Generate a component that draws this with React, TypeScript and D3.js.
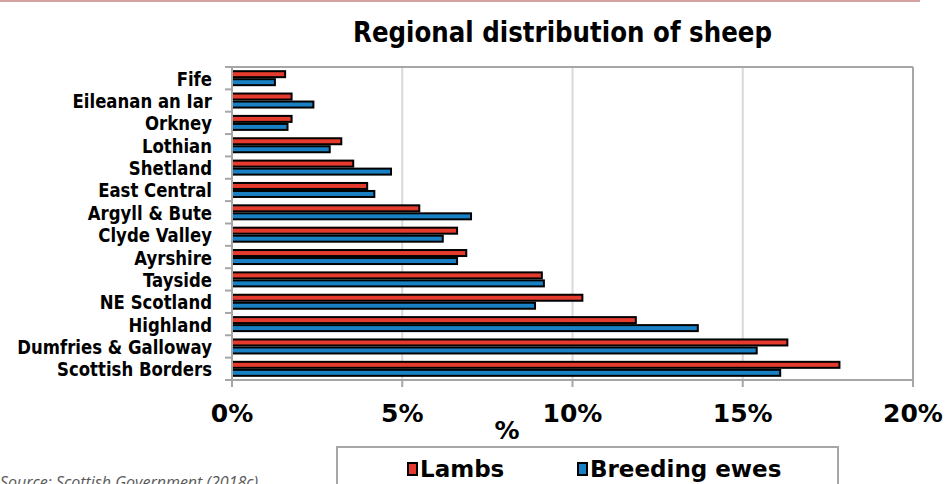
import React from "react";
import * as d3 from "d3";

const categories = [
  "Fife",
  "Eileanan an Iar",
  "Orkney",
  "Lothian",
  "Shetland",
  "East Central",
  "Argyll & Bute",
  "Clyde Valley",
  "Ayrshire",
  "Tayside",
  "NE Scotland",
  "Highland",
  "Dumfries & Galloway",
  "Scottish Borders",
];
const lambs = [1.56, 1.75, 1.75, 3.21, 3.56, 3.97, 5.5, 6.61, 6.88, 9.1, 10.29, 11.86, 16.31, 17.84];
const breedingEwes = [1.26, 2.39, 1.63, 2.87, 4.67, 4.18, 7.02, 6.19, 6.61, 9.16, 8.9, 13.68, 15.41, 16.1];
const seriesNames = ["Lambs", "Breeding ewes"];
const seriesColors = ["#e43b2e", "#1a80c4"];
const xTicks = [0, 5, 10, 15, 20];

const W = 946;
const H = 484;
const left = 232;
const right = 913;
const top = 67;
const bottom = 380;
const axisGrey = "#a6a6a6";
const gridGrey = "#d9d9d9";
const font = "'DejaVu Sans', Verdana, sans-serif";

export default function App() {
  const x = d3.scaleLinear().domain([0, 20]).range([left, right]);
  const y = d3.scaleBand<string>().domain(categories).range([top, bottom]).padding(0);
  const sub = d3.scaleBand<string>().domain(seriesNames).range([-8, 8]).padding(0);
  const values = [lambs, breedingEwes];
  const bw = y.bandwidth();
  const boundaries = categories.map((c) => y(c) as number).concat([bottom]);

  return (
    <svg width={W} height={H} style={{ position: "absolute", left: 0, top: 0, background: "#fff" }}>
      <rect x={0} y={0} width={W} height={H} fill="#fff" />
      <line x1={0} x2={920} y1={1} y2={1} stroke="#d6a3a3" strokeWidth={2} />
      <g transform={`translate(562.5,42) scale(0.876,1)`}>
        <text x={0} y={0} textAnchor="middle" fontFamily={font} fontWeight="bold" fontSize={28} fill="#000">
          Regional distribution of sheep
        </text>
      </g>

      {/* gridlines */}
      {xTicks.slice(1, -1).map((t) => (
        <line key={"g" + t} x1={x(t)} x2={x(t)} y1={top} y2={bottom} stroke={gridGrey} strokeWidth={2} />
      ))}
      {/* plot border */}
      <line x1={left} x2={right} y1={top} y2={top} stroke={axisGrey} strokeWidth={2} />
      <line x1={right} x2={right} y1={top} y2={bottom} stroke={axisGrey} strokeWidth={2} />

      {/* bars */}
      {categories.map((c, i) => {
        const cy = (y(c) as number) + bw / 2;
        return (
          <g key={c}>
            {seriesNames.map((s, si) => (
              <rect
                key={s}
                x={x(0)}
                y={cy + (sub(s) as number) + 1}
                width={x(values[si][i]) - x(0)}
                height={sub.bandwidth() - 2}
                fill={seriesColors[si]}
                stroke="#000"
                strokeWidth={2}
              />
            ))}
          </g>
        );
      })}

      {/* axes */}
      <line x1={left} x2={left} y1={top - 1} y2={bottom + 7} stroke={axisGrey} strokeWidth={2} />
      <line x1={left} x2={right + 1} y1={bottom} y2={bottom} stroke={axisGrey} strokeWidth={2} />
      {boundaries.map((b, i) => (
        <line key={"yt" + i} x1={left - 7} x2={left} y1={b} y2={b} stroke={axisGrey} strokeWidth={2} />
      ))}
      {xTicks.map((t) => (
        <line key={"xt" + t} x1={x(t)} x2={x(t)} y1={bottom} y2={bottom + 7} stroke={axisGrey} strokeWidth={2} />
      ))}

      {/* category labels */}
      {categories.map((c) => (
        <g key={"l" + c} transform={`translate(212,${(y(c) as number) + bw / 2 + 7.5}) scale(0.87,1)`}>
          <text x={0} y={0} textAnchor="end" fontFamily={font} fontWeight="bold" fontSize={19} fill="#000">
            {c}
          </text>
        </g>
      ))}

      {/* x tick labels */}
      {xTicks.map((t) => (
        <text key={"xl" + t} x={x(t)} y={422} textAnchor="middle" fontFamily={font} fontWeight="bold" fontSize={25} fill="#000">
          {d3.format(".0f")(t) + "%"}
        </text>
      ))}
      <text x={507} y={439} textAnchor="middle" fontFamily={font} fontWeight="bold" fontSize={25} fill="#000">
        %
      </text>

      {/* legend */}
      <rect x={337} y={447} width={501} height={60} fill="#fff" stroke={axisGrey} strokeWidth={2} />
      {seriesNames.map((s, si) => {
        const lx = si === 0 ? 407 : 577;
        return (
          <g key={"lg" + s}>
            <rect x={lx + 1} y={463} width={9} height={12} fill={seriesColors[si]} stroke="#000" strokeWidth={2} />
            <g transform={`translate(${lx + 13},477)`}>
              <text x={0} y={0} fontFamily={font} fontWeight="bold" fontSize={23} fill="#000">
                {s}
              </text>
            </g>
          </g>
        );
      })}

      <text x={0} y={488} fontFamily="'Open Sans', sans-serif" fontStyle="italic" fontSize={16} fill="#595959">
        Source: Scottish Government (2018c)
      </text>
    </svg>
  );
}
